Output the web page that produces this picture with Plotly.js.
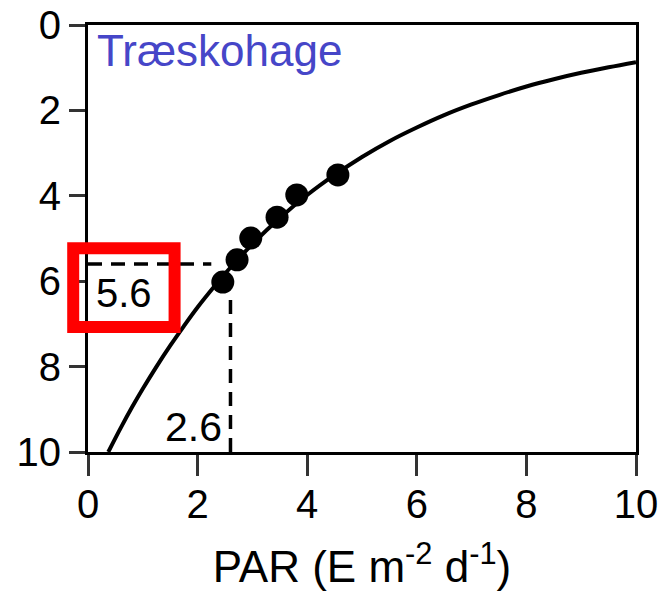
<!DOCTYPE html>
<html>
<head>
<meta charset="utf-8">
<script src="https://cdn.plot.ly/plotly-3.0.1.min.js"></script>
<style>html,body{margin:0;padding:0;background:#fff;}#chart{width:660px;height:593px;}</style>
</head>
<body>
<div id="chart"></div>
<script>
// Fitted curve
var curveX = [0.37, 0.6, 0.8, 1.0, 1.25, 1.5, 1.75, 2.0, 2.3, 2.6, 3.0, 3.5, 4.0, 4.5, 5.0, 5.5, 6.0, 6.5, 7.0, 7.5, 8.0, 8.5, 9.0, 9.5, 10.0];
var curveY = [10.0, 9.43, 8.96, 8.52, 8.0, 7.51, 7.05, 6.61, 6.13, 5.68, 5.13, 4.52, 3.98, 3.51, 3.09, 2.72, 2.40, 2.11, 1.86, 1.64, 1.44, 1.27, 1.12, 0.99, 0.87];
// Observations
var pointX = [2.46, 2.72, 2.97, 3.45, 3.81, 4.56];
var pointY = [6.02, 5.50, 4.99, 4.50, 3.98, 3.51];
// Reference read-off values
var refPAR = 2.6;
var refDepth = 5.6;
var hLineX = [0, 2.25];
var vLineY = [10, 6.3];
var tickVals = [0, 2, 4, 6, 8, 10];
var siteLabel = "Træskohage";
var xTitle = "PAR (E m<sup>-2</sup> d<sup>-1</sup>)";

var FONT = "Liberation Sans, Arial, sans-serif";

var traces = [
  {x: curveX, y: curveY, mode: "lines", line: {color: "#000", width: 4, shape: "spline"}, hoverinfo: "skip", cliponaxis: true},
  {x: hLineX, y: [refDepth, refDepth], mode: "lines", line: {color: "#000", width: 3.5, dash: "14px,9px"}},
  {x: [refPAR, refPAR], y: vLineY, mode: "lines", line: {color: "#000", width: 3.5, dash: "14px,9px"}},
  {x: pointX, y: pointY, mode: "markers", marker: {color: "#000", size: 23}}
];

var layout = {
  width: 660, height: 593,
  margin: {l: 88, r: 24, t: 25, b: 141},
  paper_bgcolor: "#fff", plot_bgcolor: "#fff",
  showlegend: false,
  font: {family: FONT, size: 40, color: "#000"},
  xaxis: {
    range: [0, 10], tickvals: tickVals, ticktext: tickVals.map(String),
    showgrid: false, zeroline: false,
    showline: true, linecolor: "#000", linewidth: 3, mirror: true,
    ticks: "outside", ticklen: 21, tickwidth: 3, tickcolor: "#333",
    ticklabelstandoff: -6,
    tickfont: {family: FONT, size: 40, color: "#000"},
    title: {text: xTitle, font: {family: FONT, size: 44, color: "#000"}, standoff: 27}
  },
  yaxis: {
    range: [10, 0], tickvals: tickVals, ticktext: tickVals.map(String),
    showgrid: false, zeroline: false,
    showline: true, linecolor: "#000", linewidth: 3, mirror: true,
    ticks: "outside", ticklen: 16, tickwidth: 3, tickcolor: "#333",
    tickfont: {family: FONT, size: 40, color: "#000"}
  },
  annotations: [
    {x: 0.13, y: 0.6, xref: "x", yref: "y", text: siteLabel, showarrow: false, xanchor: "left", yanchor: "middle",
     font: {family: FONT, size: 44, color: "#4646c8"}},
    {x: 0.66, y: 6.28, xref: "x", yref: "y", text: String(refDepth), showarrow: false, xanchor: "center", yanchor: "middle",
     font: {family: FONT, size: 40, color: "#000"}},
    {x: 1.92, y: 9.42, xref: "x", yref: "y", text: String(refPAR), showarrow: false, xanchor: "center", yanchor: "middle",
     font: {family: FONT, size: 41, color: "#000"}}
  ],
  shapes: [
    {type: "rect", xref: "paper", yref: "paper", x0: -0.027, x1: 0.158, y0: 0.293, y1: 0.477,
     line: {color: "#ff0000", width: 12}, fillcolor: "rgba(0,0,0,0)", layer: "above"}
  ]
};

Plotly.newPlot("chart", traces, layout, {displayModeBar: false, staticPlot: true});
</script>
</body>
</html>
